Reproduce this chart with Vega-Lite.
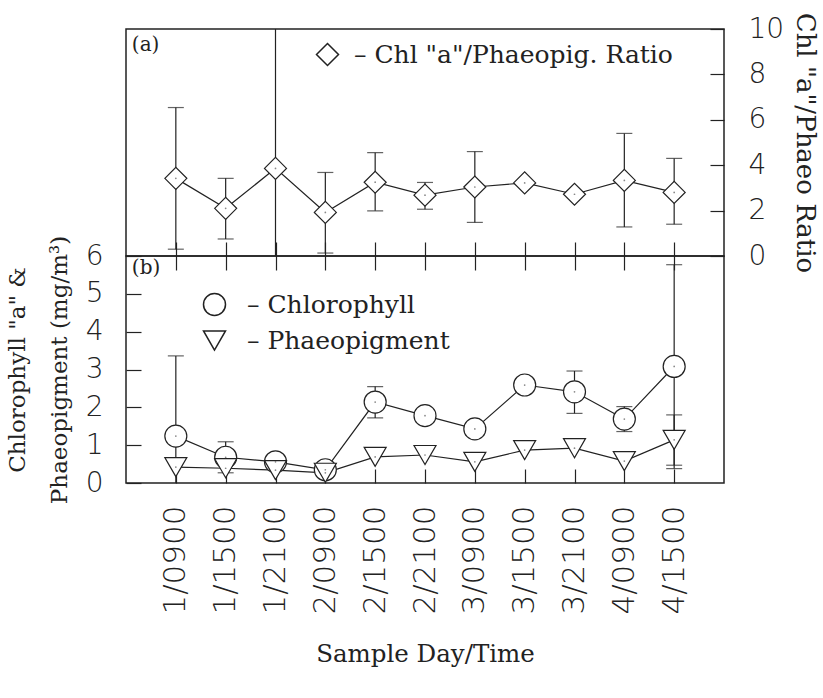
{
  "$schema": "https://vega.github.io/schema/vega-lite/v6.json",
  "background": "white",
  "padding": {"left": 5, "top": 11, "right": 5, "bottom": 5},
  "bounds": "flush",
  "spacing": 0,
  "config": {
    "view": {"stroke": "#222", "strokeWidth": 1.5},
    "axis": {"grid": false, "domain": false, "tickColor": "#222", "tickWidth": 1.2, "labelColor": "#222", "titleColor": "#222", "labelFont": "DejaVu Sans", "labelFontWeight": 200, "labelFontSize": 28, "titleFont": "DejaVu Serif", "titleFontSize": 23, "titleFontWeight": "normal"},
    "legend": {"labelFont": "DejaVu Serif", "labelFontSize": 25, "labelColor": "#222", "labelLimit": 0, "rowPadding": 8, "title": null}
  },
  "datasets": {
    "ratio": [
      {"t": "1/0900", "s": "Chl \"a\"/Phaeopig. Ratio", "v": 3.42, "lo": 0.3, "hi": 6.54},
      {"t": "1/1500", "s": "Chl \"a\"/Phaeopig. Ratio", "v": 2.1, "lo": 0.75, "hi": 3.42},
      {"t": "1/2100", "s": "Chl \"a\"/Phaeopig. Ratio", "v": 3.86, "lo": -1, "hi": 14},
      {"t": "2/0900", "s": "Chl \"a\"/Phaeopig. Ratio", "v": 1.92, "lo": 0.13, "hi": 3.68},
      {"t": "2/1500", "s": "Chl \"a\"/Phaeopig. Ratio", "v": 3.25, "lo": 1.99, "hi": 4.55},
      {"t": "2/2100", "s": "Chl \"a\"/Phaeopig. Ratio", "v": 2.68, "lo": 2.06, "hi": 3.24},
      {"t": "3/0900", "s": "Chl \"a\"/Phaeopig. Ratio", "v": 3.04, "lo": 1.48, "hi": 4.6},
      {"t": "3/1500", "s": "Chl \"a\"/Phaeopig. Ratio", "v": 3.22, "lo": null, "hi": null},
      {"t": "3/2100", "s": "Chl \"a\"/Phaeopig. Ratio", "v": 2.72, "lo": null, "hi": null},
      {"t": "4/0900", "s": "Chl \"a\"/Phaeopig. Ratio", "v": 3.33, "lo": 1.28, "hi": 5.4},
      {"t": "4/1500", "s": "Chl \"a\"/Phaeopig. Ratio", "v": 2.8, "lo": 1.4, "hi": 4.3}
    ],
    "pig": [
      {"t": "1/0900", "s": "Chlorophyll", "v": 1.24, "lo": -0.9, "hi": 3.36},
      {"t": "1/1500", "s": "Chlorophyll", "v": 0.68, "lo": 0.27, "hi": 1.09},
      {"t": "1/2100", "s": "Chlorophyll", "v": 0.56, "lo": 0.45, "hi": 0.66},
      {"t": "2/0900", "s": "Chlorophyll", "v": 0.35, "lo": null, "hi": null},
      {"t": "2/1500", "s": "Chlorophyll", "v": 2.14, "lo": 1.72, "hi": 2.55},
      {"t": "2/2100", "s": "Chlorophyll", "v": 1.78, "lo": null, "hi": null},
      {"t": "3/0900", "s": "Chlorophyll", "v": 1.43, "lo": null, "hi": null},
      {"t": "3/1500", "s": "Chlorophyll", "v": 2.59, "lo": null, "hi": null},
      {"t": "3/2100", "s": "Chlorophyll", "v": 2.41, "lo": 1.84, "hi": 2.96},
      {"t": "4/0900", "s": "Chlorophyll", "v": 1.69, "lo": 1.36, "hi": 2.02},
      {"t": "4/1500", "s": "Chlorophyll", "v": 3.08, "lo": 0.38, "hi": 5.77},
      {"t": "1/0900", "s": "Phaeopigment", "v": 0.42, "lo": null, "hi": null},
      {"t": "1/1500", "s": "Phaeopigment", "v": 0.39, "lo": null, "hi": null},
      {"t": "1/2100", "s": "Phaeopigment", "v": 0.34, "lo": null, "hi": null},
      {"t": "2/0900", "s": "Phaeopigment", "v": 0.27, "lo": null, "hi": null},
      {"t": "2/1500", "s": "Phaeopigment", "v": 0.69, "lo": null, "hi": null},
      {"t": "2/2100", "s": "Phaeopigment", "v": 0.74, "lo": null, "hi": null},
      {"t": "3/0900", "s": "Phaeopigment", "v": 0.56, "lo": null, "hi": null},
      {"t": "3/1500", "s": "Phaeopigment", "v": 0.87, "lo": null, "hi": null},
      {"t": "3/2100", "s": "Phaeopigment", "v": 0.92, "lo": null, "hi": null},
      {"t": "4/0900", "s": "Phaeopigment", "v": 0.58, "lo": null, "hi": null},
      {"t": "4/1500", "s": "Phaeopigment", "v": 1.14, "lo": 0.47, "hi": 1.8}
    ]
  },
  "resolve": {"scale": {"shape": "independent"}, "legend": {"shape": "independent"}},
  "vconcat": [
    {
      "width": 598,
      "height": 227,
      "data": {"name": "ratio"},
      "encoding": {
        "x": {"field": "t", "type": "ordinal", "scale": {"type": "point", "padding": 1, "domain": ["1/0900","1/1500","1/2100","2/0900","2/1500","2/2100","3/0900","3/1500","3/2100","4/0900","4/1500"]}, "axis": {"orient": "bottom", "labels": false, "title": null, "tickSize": 28, "offset": -14}}
      },
      "layer": [
        {"mark": {"type": "rule", "clip": true, "color": "#222", "strokeWidth": 1.2},
         "encoding": {"y": {"field": "lo", "type": "quantitative", "title": "Chl \"a\"/Phaeo Ratio", "scale": {"domain": [0, 10]}, "axis": {"orient": "right", "values": [0, 2, 4, 6, 8, 10], "labelOverlap": false, "tickSize": -14, "labelPadding": 38, "labelAlign": "left", "titleAngle": 90, "titlePadding": 8, "titleFontSize": 26}}, "y2": {"field": "hi"}}},
        {"mark": {"type": "tick", "clip": true, "color": "#222", "size": 16, "thickness": 1.2},
         "encoding": {"y": {"field": "lo", "type": "quantitative", "title": "Chl \"a\"/Phaeo Ratio"}}},
        {"mark": {"type": "tick", "clip": true, "color": "#222", "size": 16, "thickness": 1.2},
         "encoding": {"y": {"field": "hi", "type": "quantitative", "title": "Chl \"a\"/Phaeo Ratio"}}},
        {"mark": {"type": "line", "color": "#222", "strokeWidth": 1.2},
         "encoding": {"y": {"field": "v", "type": "quantitative", "title": "Chl \"a\"/Phaeo Ratio"}}},
        {"mark": {"type": "point", "filled": false, "fill": "white", "fillOpacity": 1, "stroke": "#222", "strokeWidth": 1.2, "size": 484, "opacity": 1},
         "encoding": {
           "y": {"field": "v", "type": "quantitative", "title": "Chl \"a\"/Phaeo Ratio"},
           "shape": {"field": "s", "type": "nominal", "scale": {"range": ["diamond"]}, "legend": {"orient": "none", "legendX": 189, "legendY": 13, "labelOffset": 14, "labelExpr": "'– ' + datum.label", "symbolSize": 484}}
         }},
        {"mark": {"type": "point", "filled": true, "color": "#555", "size": 3},
         "encoding": {"y": {"field": "v", "type": "quantitative", "title": "Chl \"a\"/Phaeo Ratio"}}},
        {"data": {"values": [{"label": "(a)"}]},
         "mark": {"type": "text", "align": "left", "baseline": "top", "dx": -44, "dy": 6, "font": "DejaVu Serif", "fontSize": 20, "color": "#222"},
         "encoding": {"x": {"datum": "1/0900", "type": "ordinal"}, "y": {"datum": 10, "type": "quantitative", "title": "Chl \"a\"/Phaeo Ratio"}, "text": {"field": "label"}}}
      ]
    },
    {
      "width": 598,
      "height": 227,
      "data": {"name": "pig"},
      "encoding": {
        "x": {"field": "t", "type": "ordinal", "scale": {"type": "point", "padding": 1, "domain": ["1/0900","1/1500","1/2100","2/0900","2/1500","2/2100","3/0900","3/1500","3/2100","4/0900","4/1500"]}, "axis": {"orient": "bottom", "labelAngle": -90, "labelAlign": "right", "labelBaseline": "middle", "labelFontSize": 31, "tickSize": -14, "labelPadding": 36, "title": "Sample Day/Time", "titleFontSize": 24.5, "titlePadding": 28}}
      },
      "layer": [
        {"mark": {"type": "rule", "clip": true, "color": "#222", "strokeWidth": 1.2},
         "encoding": {"y": {"field": "lo", "type": "quantitative", "title": ["Chlorophyll \"a\" &", "Phaeopigment (mg/m³)"], "scale": {"domain": [0, 6]}, "axis": {"orient": "left", "values": [0, 1, 2, 3, 4, 5, 6], "labelOverlap": false, "tickSize": -15, "labelPadding": 38, "titlePadding": 14, "titleLineHeight": 42}}, "y2": {"field": "hi"}}},
        {"mark": {"type": "tick", "clip": true, "color": "#222", "size": 16, "thickness": 1.2},
         "encoding": {"y": {"field": "lo", "type": "quantitative", "title": ["Chlorophyll \"a\" &", "Phaeopigment (mg/m³)"], "axis": {"orient": "left", "values": [0, 1, 2, 3, 4, 5, 6], "labelOverlap": false, "tickSize": -15, "labelPadding": 38, "titlePadding": 14, "titleLineHeight": 42}}}},
        {"mark": {"type": "tick", "clip": true, "color": "#222", "size": 16, "thickness": 1.2},
         "encoding": {"y": {"field": "hi", "type": "quantitative", "title": ["Chlorophyll \"a\" &", "Phaeopigment (mg/m³)"], "axis": {"orient": "left", "values": [0, 1, 2, 3, 4, 5, 6], "labelOverlap": false, "tickSize": -15, "labelPadding": 38, "titlePadding": 14, "titleLineHeight": 42}}}},
        {"mark": {"type": "line", "color": "#222", "strokeWidth": 1.2},
         "encoding": {"y": {"field": "v", "type": "quantitative", "title": ["Chlorophyll \"a\" &", "Phaeopigment (mg/m³)"], "axis": {"orient": "left", "values": [0, 1, 2, 3, 4, 5, 6], "labelOverlap": false, "tickSize": -15, "labelPadding": 38, "titlePadding": 14, "titleLineHeight": 42}}, "detail": {"field": "s"}}},
        {"mark": {"type": "point", "filled": false, "fill": "white", "fillOpacity": 1, "stroke": "#222", "strokeWidth": 1.2, "size": 484, "opacity": 1},
         "encoding": {
           "y": {"field": "v", "type": "quantitative", "title": ["Chlorophyll \"a\" &", "Phaeopigment (mg/m³)"], "axis": {"orient": "left", "values": [0, 1, 2, 3, 4, 5, 6], "labelOverlap": false, "tickSize": -15, "labelPadding": 38, "titlePadding": 14, "titleLineHeight": 42}},
           "shape": {"field": "s", "type": "nominal", "scale": {"domain": ["Chlorophyll", "Phaeopigment"], "range": ["circle", "triangle-down"]}, "legend": {"orient": "none", "legendX": 76, "legendY": 36, "labelOffset": 20, "labelExpr": "'– ' + datum.label", "symbolSize": 484}}
         }},
        {"mark": {"type": "point", "filled": true, "color": "#555", "size": 3},
         "encoding": {"y": {"field": "v", "type": "quantitative", "title": ["Chlorophyll \"a\" &", "Phaeopigment (mg/m³)"], "axis": {"orient": "left", "values": [0, 1, 2, 3, 4, 5, 6], "labelOverlap": false, "tickSize": -15, "labelPadding": 38, "titlePadding": 14, "titleLineHeight": 42}}}},
        {"data": {"values": [{"label": "(b)"}]},
         "mark": {"type": "text", "align": "left", "baseline": "top", "dx": -44, "dy": 2, "font": "DejaVu Serif", "fontSize": 20, "color": "#222"},
         "encoding": {"x": {"datum": "1/0900", "type": "ordinal"}, "y": {"datum": 6, "type": "quantitative", "title": ["Chlorophyll \"a\" &", "Phaeopigment (mg/m³)"], "axis": {"orient": "left", "values": [0, 1, 2, 3, 4, 5, 6], "labelOverlap": false, "tickSize": -15, "labelPadding": 38, "titlePadding": 14, "titleLineHeight": 42}}, "text": {"field": "label"}}}
      ]
    }
  ]
}
